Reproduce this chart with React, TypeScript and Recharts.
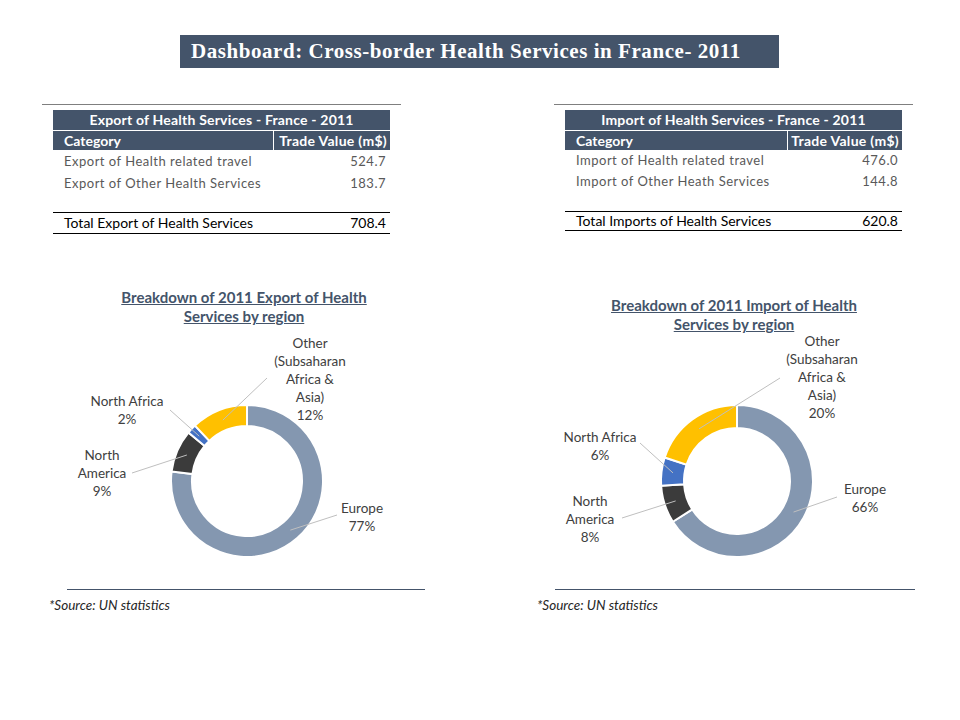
import React from "react";
import { PieChart, Pie, Cell } from "recharts";

const exportCategories = ["Export of Health related travel", "Export of Other Health Services"];
const exportValues = ["524.7", "183.7"];
const exportTotalLabel = "Total Export of Health Services";
const exportTotal = "708.4";

const importCategories = ["Import of Health related travel", "Import of Other Heath Services"];
const importValues = ["476.0", "144.8"];
const importTotalLabel = "Total Imports of Health Services";
const importTotal = "620.8";

const regions = ["Europe", "North America", "North Africa", "Other (Subsaharan Africa & Asia)"];
const regionLabelLines = [["Europe"], ["North", "America"], ["North Africa"], ["Other", "(Subsaharan", "Africa &", "Asia)"]];
const exportShares = [77, 9, 2, 12];
const importShares = [66, 8, 6, 20];

const COLORS = ["#8497b0", "#3b3b3b", "#4472c4", "#ffc000"];
const NAVY = "#44546a";
const FONT = "Lato, 'Open Sans', sans-serif";
const RAD = Math.PI / 180;

// label layout: text centre offset and leader-line end offset, relative to pie centre
const exportLayout = [
  { tx: 115, ty: 36, lx: 90, ly: 34 },
  { tx: -145, ty: -8, lx: -115, ly: -8 },
  { tx: -120, ty: -71, lx: -77, ly: -71 },
  { tx: 63, ty: -102, lx: 20, ly: -103 },
];
const importLayout = [
  { tx: 128, ty: 17, lx: 100, ly: 16 },
  { tx: -147, ty: 38, lx: -115, ly: 37 },
  { tx: -137, ty: -35, lx: -97, ly: -38 },
  { tx: 85, ty: -104, lx: 43, ly: -103 },
];

const makeLabel = (layout: any[]) => (props: any) => {
  const { cx, cy, midAngle, innerRadius, outerRadius, index, value } = props;
  const r = (innerRadius + outerRadius) / 2;
  const sx = cx + r * Math.cos(-midAngle * RAD);
  const sy = cy + r * Math.sin(-midAngle * RAD);
  const L = layout[index];
  const lines = [...regionLabelLines[index], `${value}%`];
  const lh = 18;
  const y0 = cy + L.ty - ((lines.length - 1) * lh) / 2;
  return (
    <g key={`lbl-${index}`}>
      <line x1={sx} y1={sy} x2={cx + L.lx} y2={cy + L.ly} stroke="#bfbfbf" strokeWidth={1} />
      <text x={cx + L.tx} y={y0} textAnchor="middle" fill="#404040" fontSize={13.5} fontFamily={FONT} dominantBaseline="central">
        {lines.map((t, i) => (
          <tspan key={i} x={cx + L.tx} y={y0 + i * lh} dominantBaseline="central">{t}</tspan>
        ))}
      </text>
    </g>
  );
};

function Donut({ left, top, cx, cy, values, layout, inner }: any) {
  const data = regions.map((name, i) => ({ name, value: values[i] }));
  return (
    <div style={{ position: "absolute", left, top }}>
      <PieChart width={380} height={300} margin={{ top: 0, right: 0, bottom: 0, left: 0 }}>
        <Pie
          data={data}
          dataKey="value"
          nameKey="name"
          cx={cx}
          cy={cy}
          innerRadius={inner}
          outerRadius={76}
          startAngle={90}
          endAngle={-270}
          stroke="#ffffff"
          strokeWidth={2}
          isAnimationActive={false}
          label={makeLabel(layout)}
          labelLine={false}
        >
          {data.map((d, i) => (
            <Cell key={d.name} fill={COLORS[i]} />
          ))}
        </Pie>
      </PieChart>
    </div>
  );
}

function Table({ x, w, divX, title, cats, vals, totalLabel, total, rowY, totalLineY, totalY, bottomY }: any) {
  const abs = (s: any) => ({ position: "absolute" as const, ...s });
  return (
    <>
      <div style={abs({ left: x - 11, top: 104, width: w + 22, height: 1, background: "#7f7f7f" })} />
      <div
        style={abs({
          left: x, top: 110, width: w, height: 20, background: NAVY, color: "#fff", fontWeight: 700,
          fontSize: 14, lineHeight: "20px", textAlign: "center", fontFamily: FONT, letterSpacing: 0.2,
        })}
      >
        {title}
      </div>
      <div style={abs({ left: x, top: 131, width: w, height: 19, background: NAVY })} />
      <div style={abs({ left: x + divX, top: 131, width: 1, height: 19, background: "#fff" })} />
      <div style={abs({ left: x + 11, top: 131, height: 19, lineHeight: "19px", color: "#fff", fontWeight: 700, fontSize: 14, fontFamily: FONT })}>
        Category
      </div>
      <div style={abs({ left: x + divX, width: w - divX - 3, top: 131, height: 19, lineHeight: "19px", color: "#fff", fontWeight: 700, fontSize: 14, fontFamily: FONT, textAlign: "right", letterSpacing: 0.3 })}>
        Trade Value (m$)
      </div>
      {cats.map((c: string, i: number) => (
        <React.Fragment key={c}>
          <div style={abs({ left: x + 11, top: rowY[i] - 10, height: 20, lineHeight: "20px", color: "#595959", fontSize: 13, fontFamily: FONT, letterSpacing: 0.5 })}>
            {c}
          </div>
          <div style={abs({ left: x + divX, width: w - divX - 4, top: rowY[i] - 10, height: 20, lineHeight: "20px", color: "#595959", fontSize: 13, fontFamily: FONT, textAlign: "right", letterSpacing: 0.5 })}>
            {vals[i]}
          </div>
        </React.Fragment>
      ))}
      <div style={abs({ left: x, top: totalLineY, width: w, height: 1, background: "#000" })} />
      <div style={abs({ left: x + 11, top: totalY - 10, height: 20, lineHeight: "20px", color: "#000", fontSize: 14, fontFamily: FONT })}>
        {totalLabel}
      </div>
      <div style={abs({ left: x + divX, width: w - divX - 4, top: totalY - 10, height: 20, lineHeight: "20px", color: "#000", fontSize: 14, fontFamily: FONT, textAlign: "right" })}>
        {total}
      </div>
      <div style={abs({ left: x, top: bottomY, width: w, height: 1, background: "#000" })} />
    </>
  );
}

function ChartTitle({ cx, top, text1, text2 }: any) {
  return (
    <div
      style={{
        position: "absolute", left: cx - 160, width: 320, top,
        textAlign: "center", color: NAVY, fontWeight: 700, fontSize: 15, lineHeight: "19px", fontFamily: FONT,
      }}
    >
      <span style={{ textDecoration: "underline" }}>{text1}</span>
      <br />
      <span style={{ textDecoration: "underline" }}>{text2}</span>
    </div>
  );
}

export default function App() {
  return (
    <div style={{ position: "absolute", left: 0, top: 0, width: 960, height: 720, background: "#fff", overflow: "hidden" }}>
      <div
        style={{
          position: "absolute", left: 180, top: 35, width: 599, height: 33, background: NAVY, color: "#fff",
          fontFamily: "'Liberation Serif', 'DejaVu Serif', serif", fontWeight: 700, fontSize: 21, lineHeight: "33px",
          paddingLeft: 11, boxSizing: "border-box", whiteSpace: "nowrap", letterSpacing: 0.55,
        }}
      >
        Dashboard: Cross-border Health Services in France- 2011
      </div>

      <Table
        x={53} w={337} divX={220}
        title="Export of Health Services - France - 2011"
        cats={exportCategories} vals={exportValues}
        totalLabel={exportTotalLabel} total={exportTotal}
        rowY={[161, 183]} totalLineY={212} totalY={223} bottomY={233}
      />
      <Table
        x={565} w={337} divX={222}
        title="Import of Health Services - France - 2011"
        cats={importCategories} vals={importValues}
        totalLabel={importTotalLabel} total={importTotal}
        rowY={[160, 181]} totalLineY={211} totalY={221} bottomY={230}
      />

      <Donut left={60} top={290} cx={187} cy={191} values={exportShares} layout={exportLayout} inner={55} />
      <Donut left={545} top={290} cx={192} cy={191} values={importShares} layout={importLayout} inner={53} />

      <ChartTitle cx={244} top={288} text1="Breakdown of 2011 Export of Health" text2="Services by region" />
      <ChartTitle cx={734} top={296} text1="Breakdown of 2011 Import of Health" text2="Services by region" />

      <div style={{ position: "absolute", left: 67, top: 589, width: 358, height: 1, background: "#44546a" }} />
      <div style={{ position: "absolute", left: 555, top: 589, width: 360, height: 1, background: "#44546a" }} />
      <div style={{ position: "absolute", left: 49, top: 597, fontStyle: "italic", fontSize: 13.5, fontFamily: FONT, color: "#262626" }}>
        *Source: UN statistics
      </div>
      <div style={{ position: "absolute", left: 537, top: 597, fontStyle: "italic", fontSize: 13.5, fontFamily: FONT, color: "#262626" }}>
        *Source: UN statistics
      </div>
    </div>
  );
}
